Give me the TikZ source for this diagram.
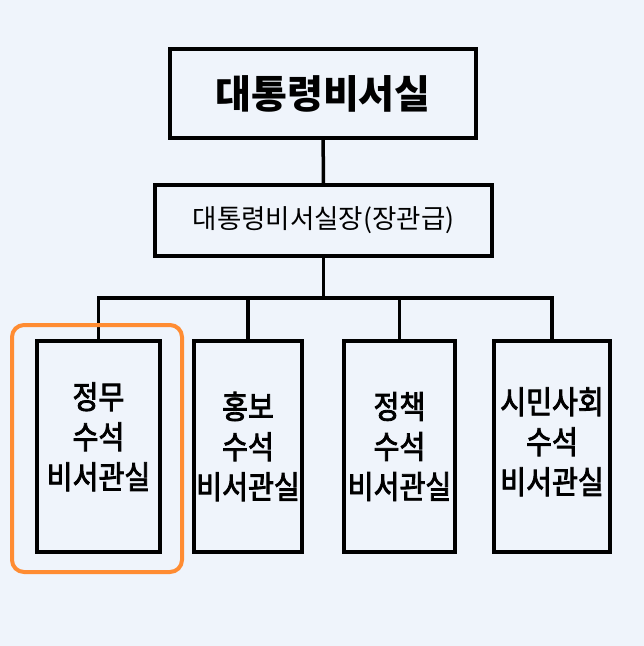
\documentclass[tikz,border=0pt]{standalone}
\usepackage{fontspec}
\setmainfont{Noto Sans CJK KR}
\newfontfamily\stellenschrift{Noto Sans CJK KR}[FakeStretch=0.88, FakeBold=2.5]
\definecolor{hintergrund}{RGB}{239,244,251}
\definecolor{markorange}{RGB}{255,140,50}
\tikzset{
	amt/.style={draw, line width=3.5pt, align=center, inner sep=0pt},
	stelle/.style={amt, minimum height=211pt, font=\stellenschrift\fontsize{32}{40}\selectfont},
}
\begin{document}
\begin{tikzpicture}[x=1pt, y=-1pt]
	\fill[hintergrund] (0,0) rectangle (644,646); % Hintergrund
	
	\node[amt, minimum width=306pt, minimum height=89pt, font=\fontsize{39}{40}\selectfont\bfseries] (sek) at (323,93.5) {대통령비서실};
	\node[amt, minimum width=337pt, minimum height=71pt, font=\fontsize{26.5}{30}\selectfont] (chef) at (323.5,220.5) {대통령비서실장(장관급)};
	
	\node[stelle, minimum width=123pt, text depth=22pt] (polit) at (98.5,446.5) {정무\\수석\\비서관실};
	\node[stelle, minimum width=108pt] (presse) at (248,446.5) {홍보\\수석\\비서관실};
	\node[stelle, minimum width=111pt] (policy) at (399.5,446.5) {정책\\수석\\비서관실};
	\node[stelle, minimum width=116pt, text depth=12pt] (buerger) at (552,446.5) {시민사회\\수석\\비서관실};
	
	\coordinate (verteiler) at (323.5,298);
	\draw[line width=3.5pt] (sek) -- (chef);
	\draw[line width=3.5pt] (chef) -- (verteiler);
	\draw[line width=3.5pt] (polit.north) |- (verteiler) -| (buerger.north);
	\foreach \s in {presse, policy}
		\draw[line width=3.5pt] (\s.north) -- (\s.north |- verteiler);
	
	% Markierung Eins
	\draw[markorange, line width=4pt, rounded corners=12pt] (12,325) rectangle (182,572);
	
	%\draw[help lines, step=50] (0,0) grid (644,646);
\end{tikzpicture}
\end{document}
